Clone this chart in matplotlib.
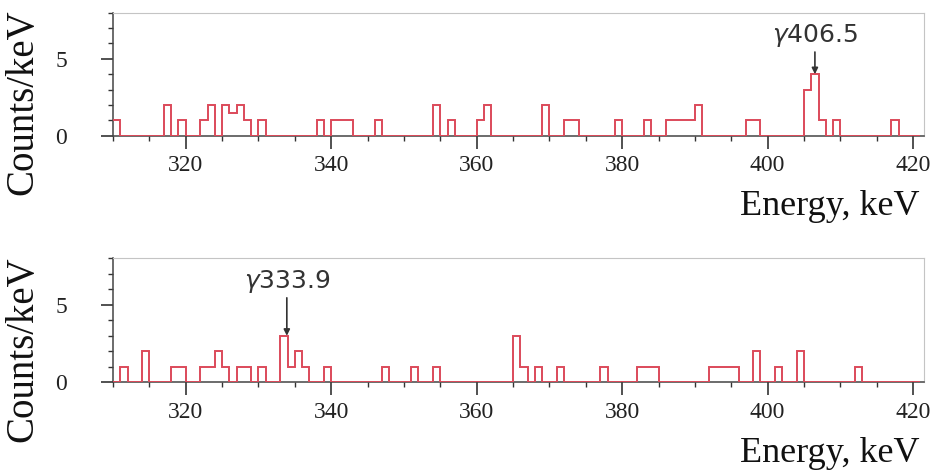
import numpy as np
import matplotlib.pyplot as plt
from matplotlib.ticker import MultipleLocator

# 1 keV bins from 310 to 421 keV
edges = np.arange(310, 422)

# non-empty bins (lower edge, keV) and counts/keV, upper spectrum
top_energy = [310, 317, 319, 322, 323, 325, 326, 327, 328, 330, 338, 340, 341, 342,
              346, 354, 356, 360, 361, 369, 372, 373, 379, 383, 386, 387, 388, 389,
              390, 397, 398, 405, 406, 407, 409, 417]
top_counts = [1, 2, 1, 1, 2, 2, 1.5, 2, 1, 1, 1, 1, 1, 1,
              1, 2, 1, 1, 2, 2, 1, 1, 1, 1, 1, 1, 1, 1,
              2, 1, 1, 3, 4, 1, 1, 1]

# lower spectrum
bot_energy = [311, 314, 318, 319, 322, 323, 324, 325, 327, 328, 330, 333, 334, 335,
              336, 339, 347, 351, 354, 365, 366, 368, 371, 377, 382, 383, 384,
              392, 393, 394, 395, 398, 401, 404, 412]
bot_counts = [1, 2, 1, 1, 1, 1, 2, 1, 1, 1, 1, 3, 1, 2,
              1, 1, 1, 1, 1, 3, 1, 1, 1, 1, 1, 1, 1,
              1, 1, 1, 1, 2, 1, 2, 1]

peaks = [406.5, 333.9]
peak_labels = ["406.5", "333.9"]

line_color = '#dc4a5a'
serif = ['Liberation Serif', 'DejaVu Serif']


def fill_bins(energy, counts):
    h = np.zeros(len(edges) - 1)
    for e, c in zip(energy, counts):
        h[e - edges[0]] = c
    return h


fig = plt.figure(figsize=(9.36, 4.75), dpi=100)
ax1 = fig.add_axes([0.1207, 0.7143, 0.8665, 0.259])
ax2 = fig.add_axes([0.1207, 0.1952, 0.8665, 0.261])

spectra = [(ax1, top_energy, top_counts), (ax2, bot_energy, bot_counts)]
for i, (ax, energy, counts) in enumerate(spectra):
    h = fill_bins(energy, counts)
    ax.stairs(h, edges, color=line_color, lw=1.4, baseline=None, zorder=3)
    ax.set_xlim(310, 421.5)
    ax.set_ylim(0, 8)

    ax.xaxis.set_major_locator(MultipleLocator(20))
    ax.xaxis.set_minor_locator(MultipleLocator(5))
    ax.yaxis.set_major_locator(MultipleLocator(5))
    ax.yaxis.set_minor_locator(MultipleLocator(1))
    ax.tick_params(axis='both', which='major', direction='out', length=9,
                   width=1.2, color='#333333', labelsize=17, labelcolor='#222222')
    ax.tick_params(axis='both', which='minor', direction='out', length=3.5,
                   width=1, color='#333333')
    ax.tick_params(axis='y', which='major', pad=24)
    ax.tick_params(axis='x', which='major', pad=5)
    for lab in ax.get_xticklabels() + ax.get_yticklabels():
        lab.set_family(serif)

    for side in ['top', 'right']:
        ax.spines[side].set_color('#c4c4c4')
    for side in ['left', 'bottom']:
        ax.spines[side].set_color('#444444')
        ax.spines[side].set_linewidth(1.1)

    ax.set_ylabel('Counts/keV', family=serif, fontsize=28, color='#111111')
    ax.yaxis.set_label_coords(-0.088, 0.27)
    ax.set_xlabel('Energy, keV', family=serif, fontsize=26, color='#111111',
                  loc='right')
    ax.xaxis.set_label_coords(0.995, -0.44)

    # arrow marking the gamma line
    x = peaks[i]
    y = h[int(x) - edges[0]]
    ax.annotate(r'$\gamma$' + peak_labels[i], xy=(x, y), xytext=(x, 6.5),
                ha='center', va='center', fontsize=18, color='#333333',
                family='DejaVu Sans',
                arrowprops=dict(arrowstyle='-|>', color='#333333', lw=1.2,
                                mutation_scale=9, shrinkA=0, shrinkB=0))

fig.savefig('out.png', dpi=100)
